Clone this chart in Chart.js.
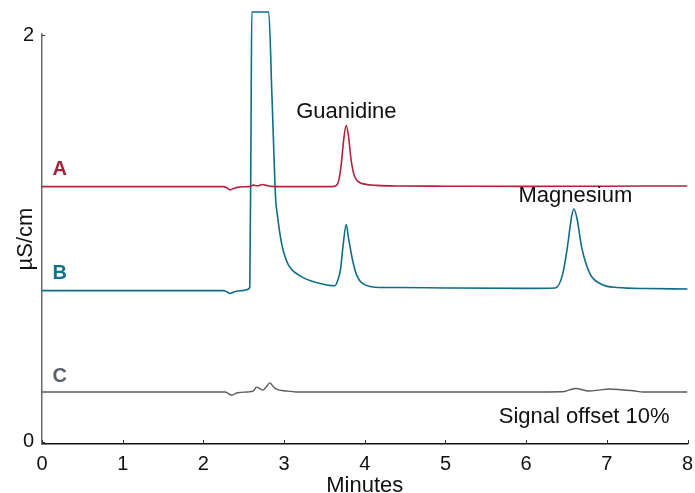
<!DOCTYPE html>
<html>
<head>
<meta charset="utf-8">
<script src="https://cdn.jsdelivr.net/npm/chart.js@4.4.1/dist/chart.umd.min.js"></script>
<style>
  html, body { margin: 0; padding: 0; background: #fff; }
  canvas { display: block; }
</style>
</head>
<body>
<canvas id="c" width="695" height="493"></canvas>
<script>
// ---- data (minutes, µS/cm) ----
const timesA = [0, 1.0, 2.0, 2.25, 2.29, 2.33, 2.37, 2.42, 2.50, 2.57, 2.62, 2.67, 2.73, 2.78, 2.85, 2.95, 3.3, 3.60, 3.65, 3.68, 3.71, 3.74, 3.77, 3.80, 3.83, 3.87, 3.92, 4.00, 4.15, 4.40, 5.0, 6.0, 7.0, 8.0];
const valuesA = [1.256, 1.256, 1.256, 1.256, 1.250, 1.240, 1.246, 1.252, 1.255, 1.256, 1.263, 1.260, 1.266, 1.262, 1.257, 1.256, 1.256, 1.256, 1.262, 1.290, 1.370, 1.490, 1.557, 1.500, 1.390, 1.310, 1.280, 1.268, 1.262, 1.259, 1.258, 1.257, 1.258, 1.259];

const timesB = [0, 1.0, 2.0, 2.25, 2.29, 2.33, 2.37, 2.42, 2.50, 2.55, 2.575, 2.59, 2.60, 2.81, 2.85, 2.897, 2.91, 2.97, 3.046, 3.195, 3.41, 3.63, 3.67, 3.70, 3.73, 3.77, 3.80, 3.85, 3.90, 3.976, 4.19, 4.43, 5.0, 6.0, 6.36, 6.45, 6.51, 6.56, 6.59, 6.63, 6.69, 6.79, 6.92, 7.13, 7.5, 8.0];
const valuesB = [0.744, 0.744, 0.744, 0.744, 0.738, 0.730, 0.736, 0.742, 0.745, 0.750, 0.760, 1.500, 2.115, 2.115, 1.700, 1.187, 1.138, 0.975, 0.877, 0.818, 0.783, 0.768, 0.800, 0.850, 0.960, 1.069, 1.000, 0.892, 0.820, 0.778, 0.759, 0.759, 0.757, 0.755, 0.757, 0.820, 0.954, 1.100, 1.146, 1.100, 0.954, 0.828, 0.778, 0.759, 0.754, 0.752];

const timesC = [0, 1.0, 2.0, 2.27, 2.35, 2.42, 2.55, 2.62, 2.657, 2.70, 2.736, 2.78, 2.823, 2.865, 2.906, 3.03, 3.15, 4.0, 5.0, 6.0, 6.45, 6.61, 6.78, 6.90, 7.03, 7.20, 7.33, 7.45, 8.0];
const valuesC = [0.245, 0.245, 0.245, 0.245, 0.229, 0.241, 0.245, 0.250, 0.269, 0.262, 0.254, 0.270, 0.290, 0.272, 0.259, 0.250, 0.245, 0.245, 0.245, 0.245, 0.246, 0.262, 0.250, 0.254, 0.260, 0.255, 0.251, 0.245, 0.245];

const xTickValues = [0, 1, 2, 3, 4, 5, 6, 7, 8];
const yTickValues = [0, 2];

const seriesNames = ['A', 'B', 'C'];
const peakNames = ['Guanidine', 'Magnesium'];
const noteText = 'Signal offset 10%';

// ---- styling ----
const colRed = '#b5213c';
const colTeal = '#0f6d87';
const colGray = '#585c60';
const FONT = "'Liberation Sans', Arial, Helvetica, sans-serif";
Chart.defaults.font.family = FONT;
Chart.defaults.color = '#111';

function pts(xs, ys) { return xs.map((x, i) => ({ x: x, y: ys[i] })); }

// annotation placement (data coordinates)
const textMarks = [
  { text: seriesNames[0], x: 0.13, y: 1.342, color: '#a8203a', bold: true, align: 'left' },
  { text: seriesNames[1], x: 0.13, y: 0.828, color: '#136f8a', bold: true, align: 'left' },
  { text: seriesNames[2], x: 0.13, y: 0.320, color: '#5b6166', bold: true, align: 'left' },
  { text: peakNames[0], x: 3.772, y: 1.621, color: '#111', bold: false, align: 'center' },
  { text: peakNames[1], x: 6.61, y: 1.212, color: '#111', bold: false, align: 'center' },
  { text: noteText, x: 6.72, y: 0.121, color: '#111', bold: false, align: 'center' }
];

const annotPlugin = {
  id: 'annot',
  afterDatasetsDraw(chart) {
    const ctx = chart.ctx;
    const xs = chart.scales.x, ys = chart.scales.y;
    ctx.save();
    // inner tick marks
    ctx.strokeStyle = '#333';
    ctx.lineWidth = 1;
    xTickValues.forEach(v => {
      const px = Math.round(xs.getPixelForValue(v)) + 0.5;
      ctx.beginPath();
      ctx.moveTo(px, chart.chartArea.bottom);
      ctx.lineTo(px, chart.chartArea.bottom - 4);
      ctx.stroke();
    });
    yTickValues.forEach(v => {
      const py = Math.round(ys.getPixelForValue(v)) + 0.5;
      ctx.beginPath();
      ctx.moveTo(chart.chartArea.left, py);
      ctx.lineTo(chart.chartArea.left + 3, py);
      ctx.stroke();
    });
    ctx.textBaseline = 'middle';
    textMarks.forEach(m => {
      ctx.font = (m.bold ? 'bold 20px ' : '22px ') + FONT;
      ctx.fillStyle = m.color;
      ctx.textAlign = m.align;
      ctx.fillText(m.text, xs.getPixelForValue(m.x), ys.getPixelForValue(m.y));
    });
    ctx.restore();
  }
};

new Chart(document.getElementById('c'), {
  type: 'line',
  data: {
    datasets: [
      { label: 'A', data: pts(timesA, valuesA), borderColor: colRed, borderWidth: 1.6, pointRadius: 0, cubicInterpolationMode: 'monotone', fill: false },
      { label: 'B', data: pts(timesB, valuesB), borderColor: colTeal, borderWidth: 1.6, pointRadius: 0, cubicInterpolationMode: 'monotone', fill: false, clip: false },
      { label: 'C', data: pts(timesC, valuesC), borderColor: colGray, borderWidth: 1.4, pointRadius: 0, cubicInterpolationMode: 'monotone', fill: false }
    ]
  },
  options: {
    responsive: false,
    devicePixelRatio: 1,
    animation: false,
    layout: { padding: { top: 34, right: 7.5, bottom: 0, left: 0 } },
    plugins: { legend: { display: false }, tooltip: { enabled: false } },
    scales: {
      x: {
        type: 'linear', min: 0, max: 8,
        afterBuildTicks: s => { s.ticks = xTickValues.map(v => ({ value: v })); },
        afterFit: s => { s.height = 49; s.paddingLeft = 0; s.paddingRight = 0; },
        grid: { display: false, drawTicks: false },
        border: { display: true, color: '#111', width: 1.5 },
        ticks: { font: { size: 20 }, color: '#111', padding: 8, maxRotation: 0 },
        title: { display: true, text: 'Minutes', font: { size: 22, lineHeight: 1 }, color: '#111', padding: { top: 0, bottom: -4 } }
      },
      y: {
        type: 'linear', min: -0.011, max: 2.007,
        afterBuildTicks: s => { s.ticks = yTickValues.map(v => ({ value: v })); },
        afterFit: s => { s.width = 42; s.paddingTop = 0; s.paddingBottom = 0; },
        grid: { display: false, drawTicks: false },
        border: { display: true, color: '#6b6b6b', width: 1.5 },
        ticks: { font: { size: 20 }, color: '#111', padding: 8 },
        title: { display: true, text: 'µS/cm', font: { size: 22, lineHeight: 1 }, color: '#111', padding: { top: 15, bottom: 0 } }
      }
    }
  },
  plugins: [annotPlugin]
});
</script>
</body>
</html>
